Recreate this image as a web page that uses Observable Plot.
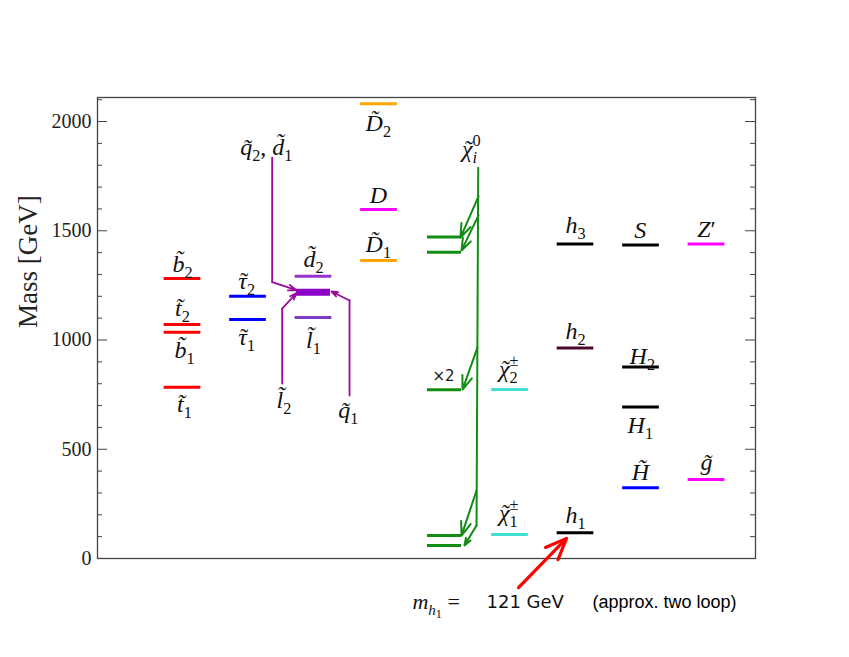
<!DOCTYPE html>
<html><head><meta charset="utf-8">
<script src="https://cdn.jsdelivr.net/npm/d3@7"></script>
<script src="https://cdn.jsdelivr.net/npm/@observablehq/plot@0.6"></script>
<style>html,body{margin:0;padding:0;background:#fff;overflow:hidden}</style>
</head><body><div id="chart"></div>
<script>
// ---- data: mass levels (GeV), column index, colour ----
const particles = ["b2","t2","b1","t1","tau2","tau1","d2","l1","D2","D","D1",
  "chi0_a","chi0_b","chi0_c","chi0_d","chi0_e","chipm2","chipm1","h3","h2","h1",
  "S","H2","H1","Htilde","Zp","gluino"];
const columns = [1,1,1,1,2,2,3,3,4,4,4,5,5,5,5,5,6,6,7,7,7,8,8,8,8,9,9];
const masses = [1281,1071,1036,784,1200,1094,1292,1103,2081,1597,1364,
  1471,1402,772,105,60,773,110,1440,964,118,1435,876,693,324,1440,362];
const colors = ["#ff0000","#ff0000","#ff0000","#ff0000","#0000ff","#0000ff","#9932cc","#7a3cc4",
  "#ffa500","#ff00ff","#ffa500","#128c12","#128c12","#128c12","#128c12","#128c12",
  "#40e0d0","#40e0d0","#000000","#4a0a2c","#000000","#000000","#000000","#000000","#0000ff",
  "#ff00ff","#ff00ff"];
// degenerate squark/slepton block
const degenerate = [{col:3, mass:1219}];

// ---- labels ----
const labelTexts = ["b\u0303_2","t\u0303_2","b\u0303_1","t\u0303_1","\u03c4\u0303_2","\u03c4\u0303_1",
  "d\u0303_2","l\u0303_1","l\u0303_2","q\u0303_1","q\u0303_2, d\u0303_1",
  "D\u0303_2","D","D\u0303_1","\u03c7\u0303_i^0","\u03c7\u0303_2^\u00b1","\u03c7\u0303_1^\u00b1",
  "h_3","h_2","h_1","S","H_2","H_1","H\u0303","Z\u2032","g\u0303"];
const labelCols = [1,1,1.03,1.03,1.98,1.98,3,3,2.55,3.53,2.28,3.99,3.99,3.99,5.41,5.98,5.98,
  7,7,7,7.99,8.02,7.99,7.99,9,9];
const labelMasses = [1346,1144,952,705,1268,1011,1368,998,723,677,1881,1991,1661,1437,1872,
  865,206,1524,1039,197,1501,924,609,394,1506,439];

// ---- decay arrows ----
const purplePaths = [
  [[2.369,1835],[2.369,1265],[2.740,1228]],
  [[2.522,801],[2.522,1144],[2.740,1215]],
  [[3.550,746],[3.550,1181],[3.275,1222]]
];
const greenSpine = [[5.515,1789],[5.489,151]];
const greenArrows = [
  [[5.519,1657],[5.244,1469]],
  [[5.519,1570],[5.260,1410]],
  [[5.504,966],[5.275,773]],
  [[5.489,311],[5.260,105]],
  [[5.489,151],[5.305,60]]
];
const redArrow = [[6.130,-133],[6.863,92]];

// ---- axis ticks ----
const majorTicks = [0,500,1000,1500,2000];
const minorTicks = [100,200,300,400,600,700,800,900,1100,1200,1300,1400,1600,1700,1800,1900,2100];

// build tables
const levels = particles.map((p,i)=>({name:p, col:columns[i], mass:masses[i], color:colors[i]}));
const labels = labelTexts.map((t,i)=>({text:t, col:labelCols[i], mass:labelMasses[i]}));
const pSegs = purplePaths.flatMap((pts,k)=>pts.slice(0,2).map(p=>({x:p[0],y:p[1],k})));
const pHeads = purplePaths.map(pts=>({x1:pts[1][0],y1:pts[1][1],x2:pts[2][0],y2:pts[2][1]}));
const gSpine = greenSpine.map(p=>({x:p[0],y:p[1]}));
const gHeads = greenArrows.map(a=>({x1:a[0][0],y1:a[0][1],x2:a[1][0],y2:a[1][1]}));
const rHead = [{x1:redArrow[0][0],y1:redArrow[0][1],x2:redArrow[1][0],y2:redArrow[1][1]}];

const W = 849, H = 657, ML = 97, MR = 94, MT = 97, MB = 99;
const innerW = W - ML - MR;
const hw = d => d.col === 5 ? 0.26 : 0.28;

const chart = Plot.plot({
  width: W, height: H,
  marginLeft: ML, marginRight: MR, marginTop: MT, marginBottom: MB,
  x: {domain: [1 - 85/65.5, 1 + 573/65.5], axis: null},
  y: {domain: [0, 2110], axis: null},
  style: {background: "#fff"},
  marks: [
    Plot.frame({stroke: "#444", strokeWidth: 1.3}),
    Plot.tickY(majorTicks, {y: d=>d, insetRight: innerW - 10, stroke: "#444"}),
    Plot.tickY(minorTicks, {y: d=>d, insetRight: innerW - 5, stroke: "#444"}),
    Plot.tickY(majorTicks, {y: d=>d, insetLeft: innerW - 10, stroke: "#444"}),
    Plot.tickY(minorTicks, {y: d=>d, insetLeft: innerW - 5, stroke: "#444"}),
    Plot.axisY({ticks: majorTicks, tickSize: 0, tickPadding: 6, fontSize: 20,
      fontFamily: "Liberation Serif", color: "#222", label: null, tickFormat: d=>String(d)}),
    Plot.text(["Mass [GeV]"], {frameAnchor: "left", dx: -69, rotate: -90, fontSize: 27,
      fontFamily: "Liberation Serif", fill: "#222"}),
    // levels
    Plot.ruleY(levels, {y: "mass", x1: d=>d.col - hw(d), x2: d=>d.col + hw(d), stroke: "color", strokeWidth: 3}),
    Plot.ruleY(degenerate, {y: "mass", x1: d=>d.col - 0.26, x2: d=>d.col + 0.26, stroke: "#8a00c8", strokeWidth: 7}),
    // purple arrows
    Plot.line(pSegs, {x: "x", y: "y", z: "k", stroke: "#9a0a9a", strokeWidth: 1.8}),
    Plot.arrow(pHeads, {x1:"x1", y1:"y1", x2:"x2", y2:"y2", stroke: "#9a0a9a", strokeWidth: 1.8, headLength: 11, headAngle: 40}),
    // green arrows
    Plot.line(gSpine, {x: "x", y: "y", stroke: "#128c12", strokeWidth: 2}),
    Plot.arrow(gHeads, {x1:"x1", y1:"y1", x2:"x2", y2:"y2", stroke: "#128c12", strokeWidth: 2, headLength: 11, headAngle: 40}),
    Plot.text(["\u00d72"], {x: 4.985, y: 833, fontSize: 15, fontFamily: "DejaVu Sans", fill: "#222"}),
    // red annotation arrow
    Plot.arrow(rHead, {x1:"x1", y1:"y1", x2:"x2", y2:"y2", stroke: "#ff0000", strokeWidth: 3.2, headLength: 14, headAngle: 45}),
    Plot.text(["m_{h_1} ="], {x: 4.511, y: -201, textAnchor: "start", fontSize: 22,
      fontFamily: "Liberation Serif", fill: "#111", ariaDescription: "tex"}),
    Plot.text(["121 GeV"], {x: 5.641, y: -201, textAnchor: "start", fontSize: 18,
      fontFamily: "DejaVu Sans", fill: "#111"}),
    Plot.text(["(approx. two loop)"], {x: 7.26, y: -201, textAnchor: "start", fontSize: 18,
      fontFamily: "Liberation Sans", fill: "#000"}),
    // particle labels
    Plot.text(labels, {x: "col", y: "mass", text: "text", fontSize: 24,
      fontFamily: "Liberation Serif", fill: "#111", ariaDescription: "tex"})
  ]
});
document.getElementById("chart").appendChild(chart);

// ---- TeX-like rendering (tilde accents, sub/superscripts) with tspans ----
const NS = "http://www.w3.org/2000/svg";
const sizes = [1, 0.68, 0.55];
const TILDE = "\u0303";
function isItalic(c){ return /[A-Za-z\u0370-\u03FF]/.test(c); }
function isGreek(c){ return /[\u0370-\u03FF]/.test(c); }
function tex(el, s){
  const g = el.closest("g");
  const base = parseFloat(g && g.getAttribute("font-size")) || 24;
  el.textContent = "";
  let cur = 0, pendingDx = 0;
  function span(text, size, italic, shift){
    const t = document.createElementNS(NS, "tspan");
    t.setAttribute("font-size", size.toFixed(1));
    t.setAttribute("font-style", italic ? "italic" : "normal");
    const d = shift - cur;
    if (Math.abs(d) > 1e-6) t.setAttribute("dy", d.toFixed(2));
    cur = shift;
    if (pendingDx){ t.setAttribute("dx", pendingDx.toFixed(2)); pendingDx = 0; }
    t.textContent = text;
    el.appendChild(t);
    return t;
  }
  function emit(str, level, shift){
    const chars = Array.from(str);
    const toks = [];
    for (let i = 0; i < chars.length; i++){
      const c = chars[i];
      if (c === TILDE) continue;
      const hasTilde = chars[i+1] === TILDE;
      const manual = hasTilde && isGreek(c);          // Greek: draw accent by hand
      const txt = hasTilde && !manual ? c + TILDE : c; // Latin: combining accent
      const it = isItalic(c);
      const last = toks[toks.length-1];
      if (!manual && last && !last.manual && last.it === it) last.t += txt;
      else toks.push({t:txt, it, manual});
    }
    const size = base*sizes[level];
    const made = [];
    for (const tk of toks){
      const t = span(tk.t, size, tk.it, shift);
      made.push(t);
      if (tk.manual){
        const w = t.getComputedTextLength();
        const a = span("\u02dc", size, false, shift);
        const tw = a.getComputedTextLength();
        const skew = tk.it ? 0.07*size : 0;
        a.setAttribute("dx", (-(w + tw)/2 + skew).toFixed(2));
        pendingDx = (w - tw)/2 - skew;
      }
    }
    return made;
  }
  function walk(str, level, shift){
    let i = 0, buf = "", made = [];
    let lastSub = null;
    while (i < str.length){
      const c = str[i];
      if (c === "_" || c === "^"){
        if (buf){ made = made.concat(emit(buf, level, shift)); buf = ""; }
        i++;
        let arg;
        if (str[i] === "{"){
          let depth = 1, j = i+1;
          while (depth){ if (str[j] === "{") depth++; else if (str[j] === "}") depth--; j++; }
          arg = str.slice(i+1, j-1); i = j;
        } else { arg = str[i]; i++; }
        const nl = Math.min(level+1, 2);
        const sh = shift + (c === "_" ? base*0.24*sizes[level] : -base*0.48*sizes[level]);
        if (c === "^" && lastSub){
          let w = 0; lastSub.forEach(t=>{ w += t.getComputedTextLength(); });
          pendingDx = -w;
        }
        const m = walk(arg, nl, sh);
        made = made.concat(m);
        lastSub = (c === "_") ? m : null;
      } else { buf += c; i++; lastSub = null; }
    }
    if (buf) made = made.concat(emit(buf, level, shift));
    return made;
  }
  walk(s, 0, 0);
}
d3.select(chart).selectAll('g[aria-description="tex"] text').each(function(){
  tex(this, this.textContent);
});
</script>
</body></html>
